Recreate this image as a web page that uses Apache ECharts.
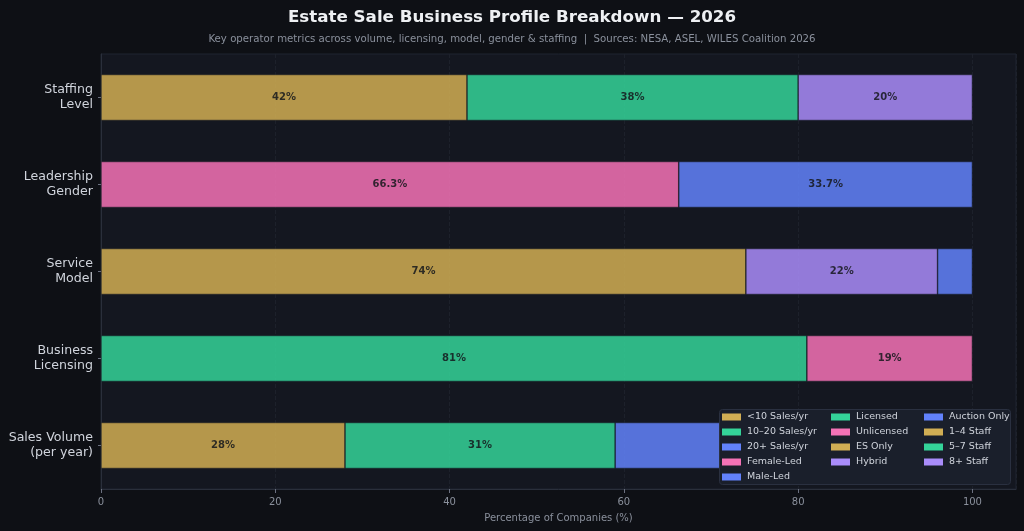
<!DOCTYPE html>
<html>
<head>
<meta charset="utf-8">
<script src="https://cdn.jsdelivr.net/npm/echarts@6/dist/echarts.min.js"></script>
<style>
  html, body { margin: 0; padding: 0; background: #0e1015; }
  #chart { width: 1024px; height: 531px; }
</style>
</head>
<body>
<div id="chart"></div>
<script>
// rows, bottom to top
const categories = ["Sales Volume\n(per year)", "Business\nLicensing", "Service\nModel", "Leadership\nGender", "Staffing\nLevel"];

const salesVolumeNames = ["<10 Sales/yr", "10–20 Sales/yr", "20+ Sales/yr"];
const salesVolume = [28, 31, 41];
const genderNames = ["Female-Led", "Male-Led"];
const gender = [66.3, 33.7];
const licensingNames = ["Licensed", "Unlicensed"];
const licensing = [81, 19];
const serviceNames = ["ES Only", "Hybrid", "Auction Only"];
const serviceModel = [74, 22, 4];
const staffingNames = ["1–4 Staff", "5–7 Staff", "8+ Staff"];
const staffing = [42, 38, 20];

const xTicks = [0, 20, 40, 60, 80, 100];

const GOLD = "#d1ae54", GREEN = "#34d399", BLUE = "#6282fc", PINK = "#f472b6", PURPLE = "#a98cfa";

// group: [names, values, row index, colours]
const groups = [
  [salesVolumeNames, salesVolume, 0, [GOLD, GREEN, BLUE]],
  [genderNames, gender, 3, [PINK, BLUE]],
  [licensingNames, licensing, 1, [GREEN, PINK]],
  [serviceNames, serviceModel, 2, [GOLD, PURPLE, BLUE]],
  [staffingNames, staffing, 4, [GOLD, GREEN, PURPLE]]
];

const series = [];
groups.forEach(([names, values, row, colors]) => {
  names.forEach((name, i) => {
    const data = categories.map((c, k) => (k === row ? values[i] : null));
    series.push({
      name: name,
      type: "bar",
      stack: "total",
      barWidth: 46,
      z: 2,
      data: data,
      itemStyle: { color: colors[i], opacity: 0.85, borderColor: "#141720", borderWidth: 0.6 },
      label: {
        show: true,
        position: "inside",
        color: "#15171c",
        fontWeight: "bold",
        fontSize: 10,
        fontFamily: "DejaVu Sans",
        formatter: p => (p.value >= 5 ? p.value + "%" : "")
      },
      emphasis: { disabled: true }
    });
  });
});

const col1 = ["<10 Sales/yr", "10–20 Sales/yr", "20+ Sales/yr", "Female-Led", "Male-Led"];
const col2 = ["Licensed", "Unlicensed", "ES Only", "Hybrid"];
const col3 = ["Auction Only", "1–4 Staff", "5–7 Staff", "8+ Staff"];

function legendCol(names, left) {
  return {
    data: names,
    orient: "vertical",
    left: left,
    top: 412,
    itemWidth: 19,
    itemHeight: 7,
    itemGap: 5,
    padding: 0,
    z: 60,
    selectedMode: false,
    icon: "rect",
    itemStyle: { opacity: 1, borderWidth: 0 },
    textStyle: { color: "#d0d4dc", fontSize: 9.5, fontFamily: "DejaVu Sans", padding: [0, 0, 0, 1] }
  };
}

const chart = echarts.init(document.getElementById("chart"));
chart.setOption({
  backgroundColor: "#0e1015",
  animation: false,
  title: {
    text: "Estate Sale Business Profile Breakdown — 2026",
    subtext: "Key operator metrics across volume, licensing, model, gender & staffing  |  Sources: NESA, ASEL, WILES Coalition 2026",
    left: "center",
    top: 4,
    itemGap: 8,
    textStyle: { color: "#eef0f3", fontSize: 16.7, fontWeight: "bold", fontFamily: "DejaVu Sans" },
    subtextStyle: { color: "#8a909c", fontSize: 10.2, fontFamily: "DejaVu Sans" }
  },
  grid: {
    left: 101, right: 8, top: 54, bottom: 42,
    show: true,
    backgroundColor: "#141720",
    borderColor: "#1f2430",
    borderWidth: 1
  },
  legend: [legendCol(col1, 722), legendCol(col2, 831), legendCol(col3, 924)],
  graphic: [{
    type: "rect",
    z: 50,
    shape: { x: 719.5, y: 409.5, width: 291, height: 75, r: 3 },
    style: { fill: "#1a1f2b", stroke: "#2a3040", lineWidth: 1 }
  }],
  xAxis: {
    type: "value",
    min: xTicks[0],
    max: 105,
    interval: 20,
    name: "Percentage of Companies (%)",
    nameLocation: "middle",
    nameGap: 24,
    nameTextStyle: { color: "#8a909c", fontSize: 10, fontFamily: "DejaVu Sans" },
    axisLine: { show: true, lineStyle: { color: "#2a2f3b" } },
    axisTick: { show: true, length: 4, lineStyle: { color: "#6b7080" } },
    axisLabel: {
      color: "#8a909c", fontSize: 10, fontFamily: "DejaVu Sans", margin: 8,
      showMaxLabel: false,
      formatter: v => (xTicks.includes(v) ? String(v) : "")
    },
    splitLine: { show: true, lineStyle: { color: "#1d212b", type: "dashed" } }
  },
  yAxis: {
    type: "category",
    data: categories,
    axisLine: { show: true, lineStyle: { color: "#2a2f3b" } },
    axisTick: { show: true, length: 3, alignWithLabel: true, lineStyle: { color: "#6b7080" } },
    axisLabel: { color: "#d0d4dc", fontSize: 12.6, lineHeight: 15, fontFamily: "DejaVu Sans", margin: 8 },
    splitLine: { show: false }
  },
  series: series
});
</script>
</body>
</html>
